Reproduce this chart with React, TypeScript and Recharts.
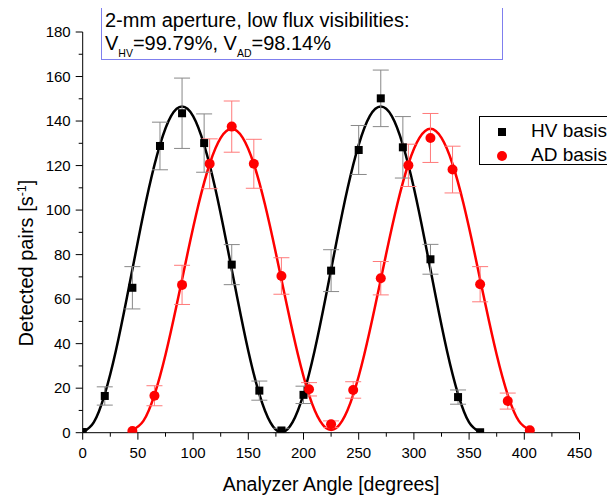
import React from 'react';
import { ComposedChart, Line, Scatter, XAxis, YAxis, ErrorBar, Label } from 'recharts';

// ---- Measured data (HV basis) ----
const hvAngles = [0, 20, 45, 70, 90, 110, 135, 160, 180, 200, 225, 250, 270, 290, 315, 340, 360];
const hvCounts = [0.3, 16.5, 65.1, 128.8, 143.5, 130.1, 75.5, 18.9, 1, 17, 72.8, 127, 150.2, 128.2, 77.9, 16, 0.2];
const hvErrors = [0, 4.1, 9.5, 10.7, 15.8, 13.1, 9, 4.3, 1, 3.9, 9.4, 11, 12.7, 13.8, 6.7, 3.2, 0];

// ---- Measured data (AD basis) ----
const adAngles = [45, 65, 90, 115, 135, 155, 180, 205, 225, 245, 270, 295, 315, 335, 360, 385, 405];
const adCounts = [0.8, 16.6, 66.4, 120.8, 137.5, 120.8, 70.4, 19.5, 3.8, 19.2, 69.4, 120.1, 132.4, 118.2, 66.7, 14.2, 1.1];
const adErrors = [0, 4.5, 8.8, 11.2, 11.5, 11, 8.2, 3, 1.5, 3.7, 7.5, 9.5, 11, 10.5, 7.9, 3.6, 0];

// ---- Fit curves ----
const hvFitAngles = [0, 10, 20, 30, 40, 50, 60, 70, 80, 90, 100, 110, 120, 130, 140, 150, 160, 170, 180, 190, 200, 210, 220, 230, 240, 250, 260, 270, 280, 290, 300, 310, 320, 330, 340, 350, 360];
const hvFitValues = [0.2, 4.6, 17.3, 36.7, 60.6, 86.0, 109.9, 129.3, 142.2, 146.5, 142.2, 129.3, 109.9, 86.0, 60.6, 36.7, 17.3, 4.6, 0.2, 4.6, 17.3, 36.7, 60.6, 86.0, 109.9, 129.3, 142.2, 146.5, 142.2, 129.3, 109.9, 86.0, 60.6, 36.7, 17.3, 4.6, 0.2];
const adFitAngles = [45, 55, 65, 75, 85, 95, 105, 115, 125, 135, 145, 155, 165, 175, 185, 195, 205, 215, 225, 235, 245, 255, 265, 275, 285, 295, 305, 315, 325, 335, 345, 355, 365, 375, 385, 395, 405];
const adFitValues = [1.2, 5.3, 17.0, 35.0, 57.1, 80.6, 102.7, 120.7, 132.4, 136.5, 132.4, 120.7, 102.7, 80.6, 57.1, 35.0, 17.0, 5.3, 1.2, 5.3, 17.0, 35.0, 57.1, 80.6, 102.7, 120.7, 132.4, 136.5, 132.4, 120.7, 102.7, 80.6, 57.1, 35.0, 17.0, 5.3, 1.2];

// ---- Axis ticks ----
const xTicks = [0, 25, 50, 75, 100, 125, 150, 175, 200, 225, 250, 275, 300, 325, 350, 375, 400, 425, 450];
const yTicks = [0, 10, 20, 30, 40, 50, 60, 70, 80, 90, 100, 110, 120, 130, 140, 150, 160, 170, 180];

const hvPoints = hvAngles.map((x, i) => ({ x, y: hvCounts[i], e: hvErrors[i] }));
const adPoints = adAngles.map((x, i) => ({ x, y: adCounts[i], e: adErrors[i] }));
const hvFit = hvFitAngles.map((x, i) => ({ x, y: hvFitValues[i] }));
const adFit = adFitAngles.map((x, i) => ({ x, y: adFitValues[i] }));

const FONT = '"Liberation Sans", Arial, Helvetica, sans-serif';

const XTick = (props: any) => {
  const { x, y, payload } = props;
  const v = payload.value;
  const major = v % 50 === 0;
  return (
    <g>
      <line x1={x} x2={x} y1={y} y2={y + (major ? 7 : 4)} stroke="#000" strokeWidth={1} />
      {major && (
        <text x={x} y={y + 25} textAnchor="middle" fontSize={15} fill="#000" fontFamily={FONT}>
          {v}
        </text>
      )}
    </g>
  );
};

const YTick = (props: any) => {
  const { x, y, payload } = props;
  const v = payload.value;
  const major = v % 20 === 0;
  return (
    <g>
      <line x1={x} x2={x - (major ? 7 : 4)} y1={y} y2={y} stroke="#000" strokeWidth={1} />
      {major && (
        <text x={x - 12} y={y + 5} textAnchor="end" fontSize={15} fill="#000" fontFamily={FONT}>
          {v}
        </text>
      )}
    </g>
  );
};

const HvShape = (props: any) => {
  const { cx, cy } = props;
  if (cx == null || cy == null) return null;
  return <rect x={cx - 4} y={cy - 4} width={8} height={8} fill="#000" />;
};

const AdShape = (props: any) => {
  const { cx, cy } = props;
  if (cx == null || cy == null) return null;
  return <circle cx={cx} cy={cy} r={5} fill="#ff0000" />;
};

const XTitle = (props: any) => {
  const vb = props.viewBox || {};
  return (
    <text x={vb.x + vb.width / 2} y={vb.y + 58} textAnchor="middle" fontSize={19.5} fill="#000" fontFamily={FONT}>
      Analyzer Angle [degrees]
    </text>
  );
};

const YTitle = () => {
  return (
    <text
      x={0}
      y={0}
      transform="translate(25, 255) rotate(-90)"
      textAnchor="middle"
      fontSize={20}
      fill="#000"
      fontFamily={FONT}
    >
      Detected pairs [s
      <tspan dy={-7} fontSize={12.5}>-1</tspan>
      <tspan dy={7}>]</tspan>
    </text>
  );
};

export default function App() {
  return (
    <div
      style={{
        position: 'relative',
        width: 615,
        height: 498,
        marginTop: -8,
        marginLeft: -8,
        overflow: 'hidden',
        fontFamily: FONT,
        background: '#fff',
      }}
    >
      <div style={{ position: 'absolute', left: 8, top: 8 }}>
        <ComposedChart width={607} height={490} margin={{ top: 24, right: 35.5, left: 0, bottom: 0 }}>
          <XAxis
            type="number"
            dataKey="x"
            domain={[0, 450]}
            ticks={xTicks}
            interval={0}
            tick={<XTick />}
            tickLine={false}
            tickSize={0}
            tickMargin={0}
            axisLine={{ stroke: '#000', strokeWidth: 1 }}
            height={65.3}
            allowDataOverflow
          >
            <Label content={<XTitle />} />
          </XAxis>
          <YAxis
            type="number"
            dataKey="y"
            domain={[0, 180]}
            ticks={yTicks}
            interval={0}
            tick={<YTick />}
            tickLine={false}
            tickSize={0}
            tickMargin={0}
            axisLine={{ stroke: '#000', strokeWidth: 1 }}
            width={74.7}
            allowDataOverflow
          >
            <Label content={<YTitle />} />
          </YAxis>
          <Line data={hvFit} dataKey="y" type="natural" stroke="#000" strokeWidth={2.5} dot={false} activeDot={false} isAnimationActive={false} />
          <Line data={adFit} dataKey="y" type="natural" stroke="#ff0000" strokeWidth={2.5} dot={false} activeDot={false} isAnimationActive={false} />
          <Scatter data={hvPoints} dataKey="y" shape={<HvShape />} isAnimationActive={false}>
            <ErrorBar dataKey="e" direction="y" width={8} stroke="#888" strokeWidth={1} />
          </Scatter>
          <Scatter data={adPoints} dataKey="y" shape={<AdShape />} isAnimationActive={false}>
            <ErrorBar dataKey="e" direction="y" width={8} stroke="#ff7a7a" strokeWidth={1} />
          </Scatter>
        </ComposedChart>
      </div>

      {/* annotation box */}
      <div
        style={{
          position: 'absolute',
          left: 101,
          top: 5,
          width: 402,
          height: 55,
          border: '1px solid #7f7fee',
          boxSizing: 'border-box',
          padding: '3px 0 0 3px',
          fontSize: 20,
          lineHeight: '23px',
          color: '#000',
          background: '#fff',
          whiteSpace: 'nowrap',
        }}
      >
        <div>2-mm aperture, low flux visibilities:</div>
        <div>
          V<span style={{ fontSize: 10.5, position: 'relative', top: 7 }}>HV</span>=99.79%, V
          <span style={{ fontSize: 10.5, position: 'relative', top: 7 }}>AD</span>=98.14%
        </div>
      </div>

      {/* legend */}
      <div
        style={{
          position: 'absolute',
          left: 479,
          top: 116,
          width: 150,
          height: 49,
          border: '1px solid #000',
          boxSizing: 'border-box',
          background: '#fff',
          fontSize: 19,
          color: '#000',
          whiteSpace: 'nowrap',
        }}
      >
        <div style={{ position: 'absolute', left: 18, top: 11, width: 8, height: 8, background: '#000' }} />
        <div style={{ position: 'absolute', left: 51, top: 3, lineHeight: '22px' }}>HV basis</div>
        <div style={{ position: 'absolute', left: 17, top: 34, width: 10, height: 10, borderRadius: 5, background: '#ff0000' }} />
        <div style={{ position: 'absolute', left: 51, top: 27, lineHeight: '22px' }}>AD basis</div>
      </div>
    </div>
  );
}
